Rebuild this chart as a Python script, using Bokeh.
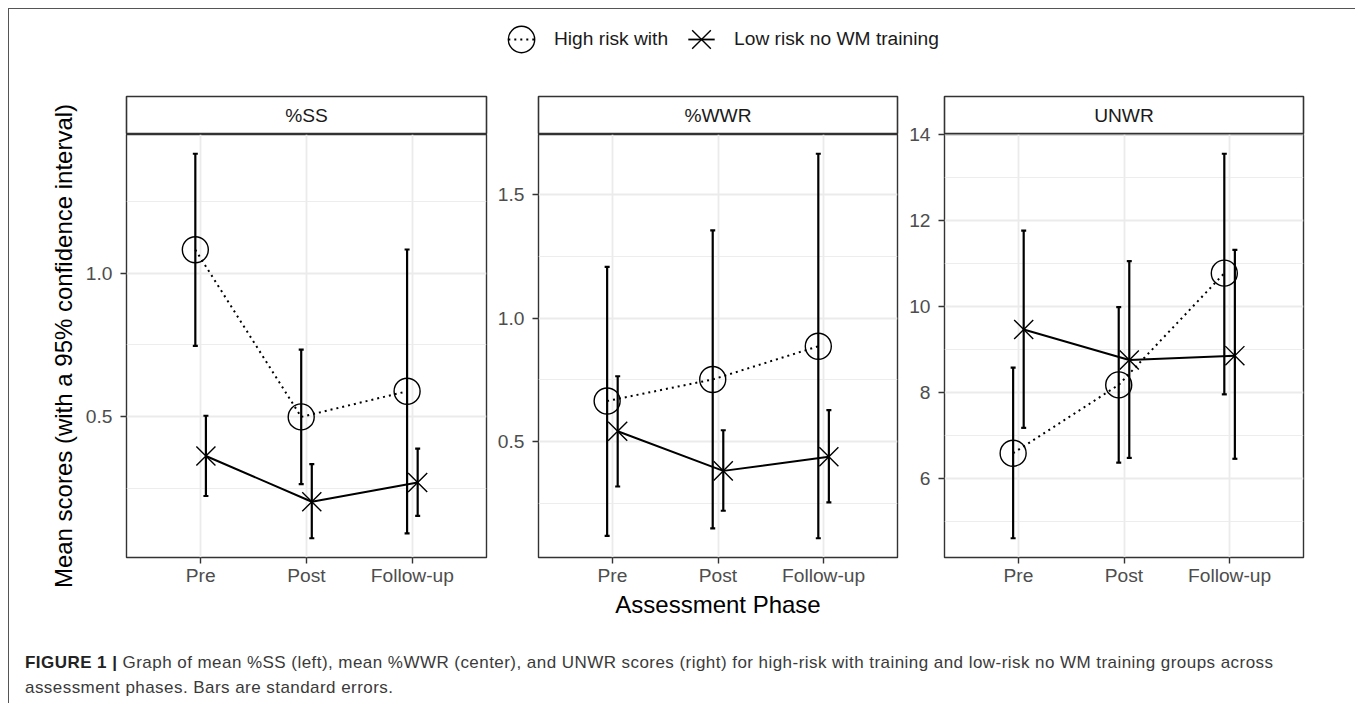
import math
from bokeh.plotting import figure
from bokeh.models import (ColumnDataSource, FactorRange, Range1d, Whisker, TeeHead,
                          FixedTicker, Legend, LegendItem, Div, NumeralTickFormatter,
                          Label, Spacer)
from bokeh.layouts import column, row
from bokeh.transform import dodge
from bokeh.embed import file_html
from bokeh.resources import INLINE

# ---------------- data ----------------
phases = ["Pre", "Post", "Follow-up"]
groups = ["High risk with", "Low risk no WM training"]

# %SS
ss_high_mean = [1.081, 0.500, 0.589]
ss_high_lo = [0.747, 0.266, 0.095]
ss_high_hi = [1.415, 0.734, 1.082]
ss_low_mean = [0.364, 0.205, 0.272]
ss_low_lo = [0.225, 0.078, 0.156]
ss_low_hi = [0.504, 0.336, 0.390]

# %WWR
wwr_high_mean = [0.665, 0.752, 0.886]
wwr_high_lo = [0.121, 0.151, 0.111]
wwr_high_hi = [1.206, 1.354, 1.663]
wwr_low_mean = [0.543, 0.383, 0.440]
wwr_low_lo = [0.320, 0.222, 0.256]
wwr_low_hi = [0.765, 0.547, 0.628]

# UNWR
unwr_high_mean = [6.59, 8.18, 10.78]
unwr_high_lo = [4.61, 6.37, 7.96]
unwr_high_hi = [8.58, 9.99, 13.56]
unwr_low_mean = [9.47, 8.76, 8.86]
unwr_low_lo = [7.18, 6.48, 6.46]
unwr_low_hi = [11.77, 11.06, 11.32]

ss_ticks, ss_minor = [0.5, 1.0], [0.25, 0.75, 1.25]
wwr_ticks, wwr_minor = [0.5, 1.0, 1.5], [0.25, 0.75, 1.25]
unwr_ticks, unwr_minor = [6, 8, 10, 12, 14], [5, 7, 9, 11, 13]

y_title = "Mean scores (with a 95% confidence interval)"
x_title = "Assessment Phase"

FONT = "Liberation Sans"
TOTAL_W = 1345
STRIP_H = 39
OVER = 12         # panel canvas overlaps the strip by this many px
PH = 508          # panel figure height (below the strip)
MBB = 85          # bottom border of panel figures
DODGE = 0.05
YT_W = 70


def make_panel(title, hm, hl, hh, lm, ll, lh, ticks, minor, fmt, width, mbl, mbr,
               xlabel=None):
    xr = FactorRange(factors=phases, range_padding=0.2, range_padding_units="absolute")
    lo = min(hl + ll)
    hi = max(hh + lh)
    pad = 0.05 * (hi - lo)
    yr = Range1d(lo - pad, hi + pad)
    p = figure(x_range=xr, y_range=yr, width=width, height=PH + OVER,
               output_backend="svg", toolbar_location=None,
               min_border_left=mbl, min_border_right=mbr,
               min_border_top=OVER, min_border_bottom=MBB,
               styles={"margin-top": f"-{OVER}px"})
    p.background_fill_color = "white"
    p.border_fill_alpha = 0
    p.outline_line_color = "#333333"
    p.outline_line_width = 1.4

    src_h = ColumnDataSource(dict(phase=phases, mean=hm, lo=hl, hi=hh))
    src_l = ColumnDataSource(dict(phase=phases, mean=lm, lo=ll, hi=lh))
    xh = dodge("phase", -DODGE, range=xr)
    xl = dodge("phase", DODGE, range=xr)

    p.line(x=xh, y="mean", source=src_h, line_color="black", line_width=2,
           line_dash="2 4")
    p.line(x=xl, y="mean", source=src_l, line_color="black", line_width=2)
    for src, xx in ((src_h, xh), (src_l, xl)):
        w = Whisker(base=xx, upper="hi", lower="lo", source=src,
                    line_color="black", line_width=2.2,
                    upper_head=TeeHead(size=5, line_width=2.2, line_color="black"),
                    lower_head=TeeHead(size=5, line_width=2.2, line_color="black"))
        p.add_layout(w)
    p.scatter(x=xh, y="mean", source=src_h, marker="circle", size=26,
              fill_color=None, line_color="black", line_width=1.4)
    p.scatter(x=xl, y="mean", source=src_l, marker="x", size=27,
              line_color="black", line_width=1.4)

    # grids
    p.xgrid.grid_line_color = "#ebebeb"
    p.xgrid.grid_line_width = 1.8
    p.ygrid.grid_line_color = "#ebebeb"
    p.ygrid.grid_line_width = 1.8
    p.ygrid.minor_grid_line_color = "#ebebeb"
    p.ygrid.minor_grid_line_width = 0.9

    p.yaxis.ticker = FixedTicker(ticks=ticks, minor_ticks=minor)
    p.yaxis.formatter = NumeralTickFormatter(format=fmt)
    for ax in (p.xaxis[0], p.yaxis[0]):
        ax.axis_line_color = None
        ax.major_tick_in = 0
        ax.major_tick_out = 6
        ax.major_tick_line_color = "#333333"
        ax.major_tick_line_width = 1.4
        ax.minor_tick_line_color = None
        ax.major_label_text_font = FONT
        ax.major_label_text_font_size = "19.2px"
        ax.major_label_text_color = "#4d4d4d"
        ax.axis_label_text_font = FONT
        ax.axis_label_text_font_size = "24px"
        ax.axis_label_text_font_style = "normal"
        ax.axis_label_text_color = "black"
    p.yaxis.major_label_standoff = 8
    p.xaxis.major_label_standoff = 1
    if xlabel:
        p.xaxis.axis_label = xlabel
        p.xaxis.axis_label_standoff = 2

    # strip
    s = figure(x_range=(0, 1), y_range=(0, 1), width=width, height=STRIP_H,
               output_backend="svg", toolbar_location=None,
               min_border_left=mbl, min_border_right=mbr,
               min_border_top=1, min_border_bottom=0)
    s.axis.visible = False
    s.grid.visible = False
    s.outline_line_color = "#333333"
    s.outline_line_width = 1.6
    s.background_fill_color = "white"
    s.border_fill_color = "white"
    s.add_layout(Label(x=0.5, y=0.5, text=title, text_align="center",
                       text_baseline="middle", text_font=FONT,
                       text_font_size="19.2px", text_color="#1a1a1a"))
    return column(s, p, spacing=0), src_h, src_l


col1, sh, sl = make_panel("%SS", ss_high_mean, ss_high_lo, ss_high_hi,
                          ss_low_mean, ss_low_lo, ss_low_hi,
                          ss_ticks, ss_minor, "0.0", 415, 47, 8)
col2, _, _ = make_panel("%WWR", wwr_high_mean, wwr_high_lo, wwr_high_hi,
                        wwr_low_mean, wwr_low_lo, wwr_low_hi,
                        wwr_ticks, wwr_minor, "0.0", 411, 44, 8,
                        xlabel=x_title)
col3, _, _ = make_panel("UNWR", unwr_high_mean, unwr_high_lo, unwr_high_hi,
                        unwr_low_mean, unwr_low_lo, unwr_low_hi,
                        unwr_ticks, unwr_minor, "0", 449, 39, 51)

# ---------------- y-axis title (spans strip + panel) ----------------
yt = figure(x_range=(0, 1), y_range=(0, 1), width=YT_W, height=STRIP_H + PH,
            output_backend="svg", toolbar_location=None,
            min_border_left=0, min_border_right=0, min_border_top=0, min_border_bottom=0)
yt.axis.visible = False
yt.grid.visible = False
yt.outline_line_color = None
yt.add_layout(Label(x=54, y=296.5, x_units="screen", y_units="screen",
                    text=y_title, angle=math.pi / 2, text_align="center",
                    text_baseline="middle", text_font=FONT,
                    text_font_size="24px", text_color="black"))

# ---------------- header with legend ----------------
header = figure(x_range=FactorRange(factors=phases), y_range=Range1d(100, 101),
                width=TOTAL_W, height=86, output_backend="svg",
                toolbar_location=None, min_border_left=0, min_border_right=0,
                min_border_top=0, min_border_bottom=0)
header.axis.visible = False
header.grid.visible = False
header.outline_line_color = None
hl_dash = header.scatter(x="phase", y="mean", source=sh, marker="dash", size=26,
                         line_color="black", line_width=1.8, line_dash="2 4")
hl_pt = header.scatter(x="phase", y="mean", source=sh, marker="circle", size=26,
                       fill_color=None, line_color="black", line_width=1.4)
ll_dash = header.scatter(x="phase", y="mean", source=sl, marker="dash", size=26,
                         line_color="black", line_width=1.8)
ll_pt = header.scatter(x="phase", y="mean", source=sl, marker="x", size=27,
                       line_color="black", line_width=1.4)
legend = Legend(items=[LegendItem(label=groups[0], renderers=[hl_dash, hl_pt]),
                       LegendItem(label=groups[1], renderers=[ll_dash, ll_pt])],
                location=(479, 20), orientation="horizontal",
                glyph_width=66, glyph_height=72, label_height=72,
                label_standoff=0, spacing=0, padding=0, margin=0,
                border_line_color=None, background_fill_alpha=0,
                label_text_font=FONT, label_text_font_size="19.2px",
                label_text_color="#1a1a1a")
header.add_layout(legend)

caption = Div(
    text=('<div style="margin-left:11px; margin-top:3px; white-space:nowrap; '
          'font-family:\'Liberation Sans\', Arial, sans-serif; font-size:17px; '
          'letter-spacing:0.45px; line-height:25px; color:#3a3a3a;">'
          '<b style="color:#222222">FIGURE 1 |</b> Graph of mean %SS (left), mean %WWR '
          '(center), and UNWR scores (right) for high-risk with training and low-risk '
          'no WM training groups across<br>assessment phases. Bars are standard errors.'
          '</div>'),
    width=TOTAL_W, height=58)

inner = column(header, row(yt, col1, col2, col3, spacing=0), caption, spacing=0,
               styles={"border-top": "1px solid #555555",
                       "border-left": "1px solid #555555"})
layout = row(Spacer(width=8, height=10), column(Spacer(width=10, height=8), inner,
                                                spacing=0), spacing=0)

open("out.html", "w").write(file_html(layout, INLINE))
